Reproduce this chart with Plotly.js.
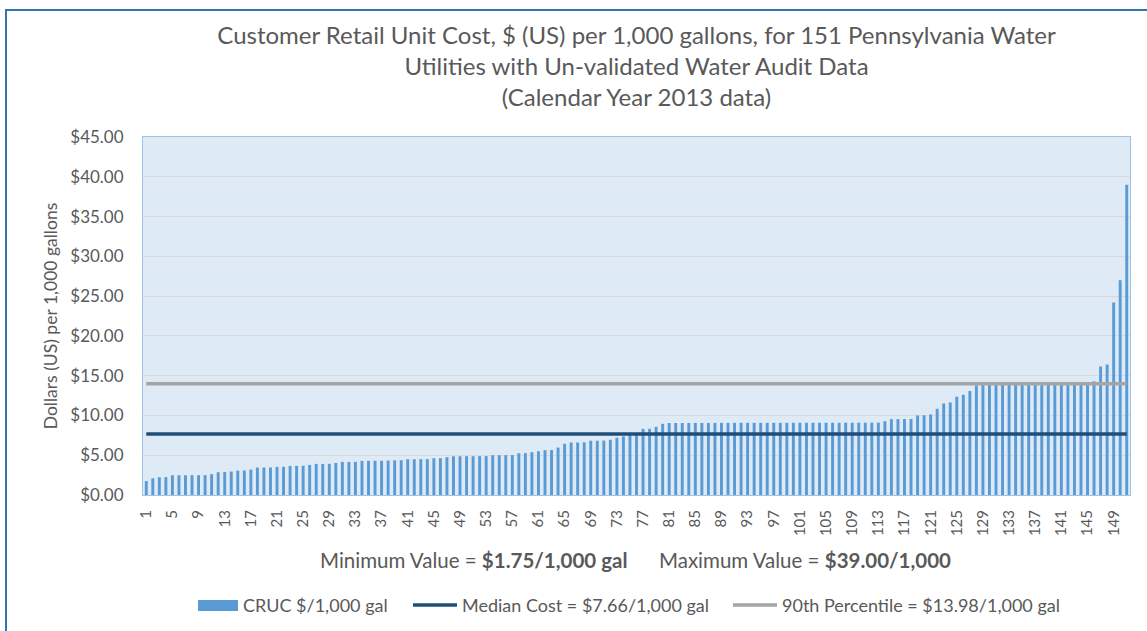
<!DOCTYPE html>
<html>
<head>
<meta charset="utf-8">
<script src="https://cdn.plot.ly/plotly-3.0.1.min.js"></script>
<style>
  html, body { margin: 0; padding: 0; background: #ffffff; }
  #wrap { position: relative; width: 1147px; height: 631px; overflow: hidden; }
  #chart { position: absolute; left: 0; top: 0; width: 1147px; height: 631px; }
  .frameL { position: absolute; left: 5px; top: 9px; width: 2px; height: 622px; background: #2e75b6; }
  .frameT { position: absolute; left: 5px; top: 9px; width: 1142px; height: 2px; background: #2e75b6; }
</style>
</head>
<body>
<div id="wrap">
  <div id="chart"></div>
  <div class="frameL"></div>
  <div class="frameT"></div>
</div>
<script>
// Customer retail unit cost ($ per 1,000 gal), 151 utilities, sorted ascending
const costValues = [
  1.75, 2.10, 2.23, 2.25, 2.48, 2.48, 2.48, 2.49, 2.49, 2.50,
  2.62, 2.86, 2.88, 2.95, 3.07, 3.08, 3.19, 3.45, 3.45, 3.46,
  3.53, 3.55, 3.66, 3.67, 3.68, 3.78, 3.91, 3.91, 3.92, 4.03,
  4.16, 4.16, 4.17, 4.29, 4.29, 4.30, 4.30, 4.33, 4.36, 4.37,
  4.50, 4.50, 4.51, 4.52, 4.62, 4.63, 4.75, 4.87, 4.87, 4.88,
  4.88, 4.89, 4.89, 5.00, 5.00, 5.01, 5.02, 5.25, 5.26, 5.38,
  5.50, 5.64, 5.65, 5.97, 6.44, 6.60, 6.60, 6.62, 6.82, 6.82,
  6.84, 6.95, 7.20, 7.37, 7.52, 7.66, 8.31, 8.32, 8.57, 8.95,
  9.05, 9.05, 9.05, 9.06, 9.06, 9.06, 9.06, 9.06, 9.07, 9.07,
  9.07, 9.07, 9.07, 9.07, 9.07, 9.07, 9.07, 9.07, 9.07, 9.08,
  9.08, 9.08, 9.08, 9.08, 9.08, 9.08, 9.08, 9.09, 9.09, 9.09,
  9.09, 9.10, 9.10, 9.28, 9.54, 9.54, 9.55, 9.56, 10.00, 10.02,
  10.13, 10.84, 11.51, 11.64, 12.35, 12.60, 13.07, 13.78, 13.85, 13.90,
  13.92, 13.94, 13.95, 13.96, 13.97, 13.98, 13.99, 14.00, 14.00, 14.01,
  14.02, 14.03, 14.04, 14.05, 14.08, 14.29, 16.15, 16.40, 24.20, 27.00,
  39.00
];
const utilities = costValues.map((v, i) => i + 1);
const xTickLabels = [1, 5, 9, 13, 17, 21, 25, 29, 33, 37, 41, 45, 49, 53, 57, 61, 65, 69, 73, 77,
  81, 85, 89, 93, 97, 101, 105, 109, 113, 117, 121, 125, 129, 133, 137, 141, 145, 149];
const medianCost = 7.66;
const percentile90 = 13.98;
const minValue = 1.75;
const maxValue = 39.00;

const seriesNames = ['CRUC $/1,000 gal', 'Median Cost = $7.66/1,000 gal', '90th Percentile = $13.98/1,000 gal'];
const colors = { bar: '#5b9bd5', median: '#1f4e79', p90: '#a5a5a5' };
const textColor = '#595959';
const FONT = 'Lato, "Open Sans", sans-serif';

// plot area in pixels (for placing layout items)
const PL = 143, PR = 1130, PT = 137, PB = 495;
const px2x = p => (p - PL) / (PR - PL);
const py2y = p => (PB - p) / (PB - PT);

const traces = [
  { type: 'bar', x: utilities, y: costValues, name: seriesNames[0],
    marker: { color: colors.bar, line: { width: 0 } }, showlegend: false, hoverinfo: 'x+y' },
  { type: 'scatter', mode: 'lines', x: utilities, y: utilities.map(() => medianCost), name: seriesNames[1],
    line: { color: colors.median, width: 3.5 }, showlegend: false },
  { type: 'scatter', mode: 'lines', x: utilities, y: utilities.map(() => percentile90), name: seriesNames[2],
    line: { color: colors.p90, width: 3.5 }, showlegend: false }
];

const legY = 605;
const layout = {
  width: 1147, height: 631,
  margin: { l: PL, r: 1147 - PR, t: PT, b: 631 - PB, pad: 0 },
  paper_bgcolor: '#ffffff',
  plot_bgcolor: '#deebf7',
  bargap: 0.55,
  font: { family: FONT, color: textColor },
  title: {
    text: 'Customer Retail Unit Cost, $ (US) per 1,000 gallons, for 151 Pennsylvania Water<br>Utilities with Un-validated Water Audit Data<br>(Calendar Year 2013 data)',
    font: { family: FONT, size: 24, color: textColor },
    xref: 'paper', x: 0.5, xanchor: 'center',
    yref: 'container', y: 1 - 44 / 631, yanchor: 'top'
  },
  xaxis: {
    range: [0.5, 151.5], tickmode: 'array', tickvals: xTickLabels, ticktext: xTickLabels.map(String),
    tickangle: -90, tickfont: { family: FONT, size: 15, color: textColor },
    showgrid: false, zeroline: false, showline: true, mirror: true, linecolor: '#9dc3e6', linewidth: 1,
    ticks: '', ticklabelstandoff: 8
  },
  yaxis: {
    range: [0, 45], dtick: 5, tickformat: '$.2f',
    tickfont: { family: FONT, size: 17, color: textColor },
    showgrid: true, gridcolor: '#d9d9d9', gridwidth: 1, zeroline: false,
    showline: true, mirror: true, linecolor: '#9dc3e6', linewidth: 1,
    ticks: '', ticklabelstandoff: 15,
    title: { text: 'Dollars (US) per 1,000 gallons', font: { family: FONT, size: 17.5, color: textColor }, standoff: 8 }
  },
  annotations: [
    { xref: 'paper', yref: 'paper', x: px2x(318), y: py2y(560), xanchor: 'left', yanchor: 'middle', showarrow: false,
      text: 'Minimum Value = <b>$' + minValue.toFixed(2) + '/1,000 gal</b>', font: { family: FONT, size: 20.5, color: textColor } },
    { xref: 'paper', yref: 'paper', x: px2x(657), y: py2y(560), xanchor: 'left', yanchor: 'middle', showarrow: false,
      text: 'Maximum Value = <b>$' + maxValue.toFixed(2) + '/1,000</b>', font: { family: FONT, size: 20.5, color: textColor } },
    { xref: 'paper', yref: 'paper', x: px2x(241), y: py2y(legY), xanchor: 'left', yanchor: 'middle', showarrow: false,
      text: seriesNames[0], font: { family: FONT, size: 18, color: textColor } },
    { xref: 'paper', yref: 'paper', x: px2x(460), y: py2y(legY), xanchor: 'left', yanchor: 'middle', showarrow: false,
      text: seriesNames[1], font: { family: FONT, size: 18, color: textColor } },
    { xref: 'paper', yref: 'paper', x: px2x(780), y: py2y(legY), xanchor: 'left', yanchor: 'middle', showarrow: false,
      text: seriesNames[2], font: { family: FONT, size: 18, color: textColor } }
  ],
  shapes: [
    { type: 'rect', xref: 'paper', yref: 'paper', x0: px2x(198), x1: px2x(238), y0: py2y(600), y1: py2y(611),
      fillcolor: colors.bar, line: { width: 0 } },
    { type: 'line', xref: 'paper', yref: 'paper', x0: px2x(413), x1: px2x(457), y0: py2y(legY), y1: py2y(legY),
      line: { color: colors.median, width: 3.5 } },
    { type: 'line', xref: 'paper', yref: 'paper', x0: px2x(733), x1: px2x(777), y0: py2y(legY), y1: py2y(legY),
      line: { color: colors.p90, width: 3.5 } }
  ]
};

Plotly.newPlot('chart', traces, layout, { displayModeBar: false, staticPlot: true });
</script>
</body>
</html>
